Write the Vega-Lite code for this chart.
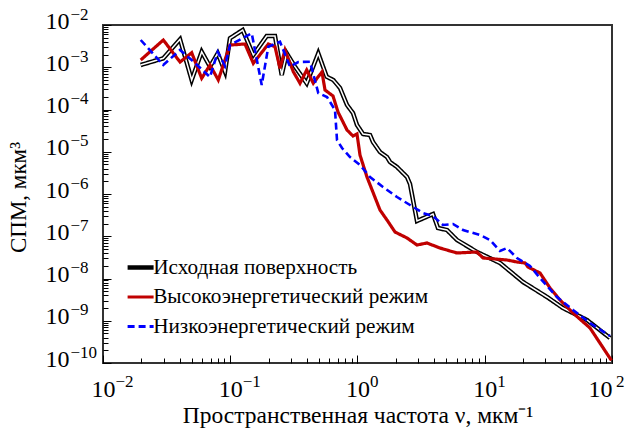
{
  "$schema": "https://vega.github.io/schema/vega-lite/v6.json",
  "width": 509,
  "height": 338,
  "autosize": {"type": "none"},
  "padding": {"left": 103, "top": 25, "right": 13, "bottom": 73},
  "background": "white",
  "config": {
    "view": {"stroke": "#333333", "strokeWidth": 2},
    "font": "Liberation Serif",
    "axis": {"labelFont": "Liberation Serif", "titleFont": "Liberation Serif", "labelColor": "black", "titleColor": "black", "tickColor": "black", "domain": false, "grid": false, "labelOverlap": false, "labelFlush": false, "labelBound": false},
    "legend": {"labelFont": "Liberation Serif", "labelFontSize": 21.2, "labelColor": "black", "labelLimit": 500}
  },
  "datasets": {
    "psd": [
      {"series": "Исходная поверхность", "x": 0.01978, "y": 1.13e-3},
      {"series": "Исходная поверхность", "x": 0.02978, "y": 1.628e-3},
      {"series": "Исходная поверхность", "x": 0.04029, "y": 4.587e-3},
      {"series": "Исходная поверхность", "x": 0.04977, "y": 4.99e-4},
      {"series": "Исходная поверхность", "x": 0.05964, "y": 2.333e-3},
      {"series": "Исходная поверхность", "x": 0.06932, "y": 1.03e-3},
      {"series": "Исходная поверхность", "x": 0.0797, "y": 2.139e-3},
      {"series": "Исходная поверхность", "x": 0.09094, "y": 7.85e-4},
      {"series": "Исходная поверхность", "x": 0.0995, "y": 4.844e-3},
      {"series": "Исходная поверхность", "x": 0.1252, "y": 7.615e-3},
      {"series": "Исходная поверхность", "x": 0.1518, "y": 1.95e-3},
      {"series": "Исходная поверхность", "x": 0.1934, "y": 5.49e-3},
      {"series": "Исходная поверхность", "x": 0.2247, "y": 5.49e-3},
      {"series": "Исходная поверхность", "x": 0.2537, "y": 6.555e-4},
      {"series": "Исходная поверхность", "x": 0.2778, "y": 2.139e-3},
      {"series": "Исходная поверхность", "x": 0.3227, "y": 1.03e-3},
      {"series": "Исходная поверхность", "x": 0.3989, "y": 4.17e-4},
      {"series": "Исходная поверхность", "x": 0.4918, "y": 2.139e-3},
      {"series": "Исходная поверхность", "x": 0.5728, "y": 5.974e-4},
      {"series": "Исходная поверхность", "x": 0.6454, "y": 4.99e-4},
      {"series": "Исходная поверхность", "x": 0.7288, "y": 3.228e-4},
      {"series": "Исходная поверхность", "x": 0.827, "y": 1.278e-4},
      {"series": "Исходная поверхность", "x": 0.9216, "y": 8.26e-5},
      {"series": "Исходная поверхность", "x": 0.991, "y": 4.296e-5},
      {"series": "Исходная поверхность", "x": 1.105, "y": 2.63e-5},
      {"series": "Исходная поверхность", "x": 1.254, "y": 2.49e-5},
      {"series": "Исходная поверхность", "x": 1.324, "y": 1.7e-5},
      {"series": "Исходная поверхность", "x": 1.502, "y": 9.86e-6},
      {"series": "Исходная поверхность", "x": 1.705, "y": 7.51e-6},
      {"series": "Исходная поверхность", "x": 1.8, "y": 5.72e-6},
      {"series": "Исходная поверхность", "x": 2.044, "y": 4.355e-6},
      {"series": "Исходная поверхность", "x": 2.449, "y": 2.525e-6},
      {"series": "Исходная поверхность", "x": 2.586, "y": 1.725e-6},
      {"series": "Исходная поверхность", "x": 2.935, "y": 2.296e-7},
      {"series": "Исходная поверхность", "x": 3.921, "y": 3.362e-7},
      {"series": "Исходная поверхность", "x": 4.291, "y": 1.568e-7},
      {"series": "Исходная поверхность", "x": 5.05, "y": 1.405e-7},
      {"series": "Исходная поверхность", "x": 6.05, "y": 8.15e-8},
      {"series": "Исходная поверхность", "x": 8.69, "y": 4.24e-8},
      {"series": "Исходная поверхность", "x": 13.18, "y": 2.33e-8},
      {"series": "Исходная поверхность", "x": 19.98, "y": 8.26e-9},
      {"series": "Исходная поверхность", "x": 30.84, "y": 3.65e-9},
      {"series": "Исходная поверхность", "x": 41.2, "y": 2.0e-9},
      {"series": "Исходная поверхность", "x": 63.6, "y": 1.041e-9},
      {"series": "Исходная поверхность", "x": 96.4, "y": 3.905e-10},

      {"series": "Высокоэнергетический режим", "x": 0.01978, "y": 1.484e-3},
      {"series": "Высокоэнергетический режим", "x": 0.02978, "y": 4.415e-3},
      {"series": "Высокоэнергетический режим", "x": 0.04029, "y": 1.331e-3},
      {"series": "Высокоэнергетический режим", "x": 0.04977, "y": 2.21e-3},
      {"series": "Высокоэнергетический режим", "x": 0.05964, "y": 5.475e-4},
      {"series": "Высокоэнергетический режим", "x": 0.06932, "y": 1.13e-3},
      {"series": "Высокоэнергетический режим", "x": 0.08054, "y": 4.99e-4},
      {"series": "Высокоэнергетический режим", "x": 0.0995, "y": 3.362e-3},
      {"series": "Высокоэнергетический режим", "x": 0.1306, "y": 3.55e-3},
      {"series": "Высокоэнергетический режим", "x": 0.1518, "y": 1.24e-3},
      {"series": "Высокоэнергетический режим", "x": 0.1991, "y": 3.55e-3},
      {"series": "Высокоэнергетический режим", "x": 0.2247, "y": 3.065e-3},
      {"series": "Высокоэнергетический режим", "x": 0.246, "y": 9.44e-4},
      {"series": "Высокоэнергетический режим", "x": 0.2693, "y": 2.56e-3},
      {"series": "Высокоэнергетический режим", "x": 0.313, "y": 7.85e-4},
      {"series": "Высокоэнергетический режим", "x": 0.3533, "y": 4.17e-4},
      {"series": "Высокоэнергетический режим", "x": 0.3989, "y": 8.61e-4},
      {"series": "Высокоэнергетический режим", "x": 0.4495, "y": 4.17e-4},
      {"series": "Высокоэнергетический режим", "x": 0.4893, "y": 5.88e-4},
      {"series": "Высокоэнергетический режим", "x": 0.526, "y": 7.72e-4},
      {"series": "Высокоэнергетический режим", "x": 0.5554, "y": 2.894e-4},
      {"series": "Высокоэнергетический режим", "x": 0.642, "y": 2.087e-4},
      {"series": "Высокоэнергетический режим", "x": 0.7026, "y": 8.73e-5},
      {"series": "Высокоэнергетический режим", "x": 0.827, "y": 3.27e-5},
      {"series": "Высокоэнергетический режим", "x": 0.9216, "y": 2.36e-5},
      {"series": "Высокоэнергетический режим", "x": 0.991, "y": 2.63e-5},
      {"series": "Высокоэнергетический режим", "x": 1.046, "y": 8.38e-6},
      {"series": "Высокоэнергетический режим", "x": 1.187, "y": 2.525e-6},
      {"series": "Высокоэнергетический режим", "x": 1.502, "y": 4.18e-7},
      {"series": "Высокоэнергетический режим", "x": 1.705, "y": 2.424e-7},
      {"series": "Высокоэнергетический режим", "x": 1.971, "y": 1.261e-7},
      {"series": "Высокоэнергетический режим", "x": 2.449, "y": 9.09e-8},
      {"series": "Высокоэнергетический режим", "x": 2.935, "y": 6.21e-8},
      {"series": "Высокоэнергетический режим", "x": 3.517, "y": 6.92e-8},
      {"series": "Высокоэнергетический режим", "x": 4.449, "y": 5.27e-8},
      {"series": "Высокоэнергетический режим", "x": 6.05, "y": 4.013e-8},
      {"series": "Высокоэнергетический режим", "x": 8.69, "y": 4.24e-8},
      {"series": "Высокоэнергетический режим", "x": 9.69, "y": 3.056e-8},
      {"series": "Высокоэнергетический режим", "x": 14.95, "y": 2.74e-8},
      {"series": "Высокоэнергетический режим", "x": 17.92, "y": 2.457e-8},
      {"series": "Высокоэнергетический режим", "x": 20.72, "y": 2.33e-8},
      {"series": "Высокоэнергетический режим", "x": 21.87, "y": 1.872e-8},
      {"series": "Высокоэнергетический режим", "x": 27.18, "y": 1.35e-8},
      {"series": "Высокоэнергетический режим", "x": 32.57, "y": 5.96e-9},
      {"series": "Высокоэнергетический режим", "x": 39.02, "y": 3.1e-9},
      {"series": "Высокоэнергетический режим", "x": 49.38, "y": 1.526e-9},
      {"series": "Высокоэнергетический режим", "x": 67.17, "y": 6.74e-10},
      {"series": "Высокоэнергетический режим", "x": 99.0, "y": 1.15e-10},

      {"series": "Низкоэнергетический режим", "x": 0.01978, "y": 4.415e-3},
      {"series": "Низкоэнергетический режим", "x": 0.02978, "y": 1.13e-3},
      {"series": "Низкоэнергетический режим", "x": 0.04029, "y": 2.56e-3},
      {"series": "Низкоэнергетический режим", "x": 0.04977, "y": 1.484e-3},
      {"series": "Низкоэнергетический режим", "x": 0.06932, "y": 5.88e-4},
      {"series": "Низкоэнергетический режим", "x": 0.0797, "y": 2.296e-3},
      {"series": "Низкоэнергетический режим", "x": 0.09094, "y": 1.071e-3},
      {"series": "Низкоэнергетический режим", "x": 0.0995, "y": 3.362e-3},
      {"series": "Низкоэнергетический режим", "x": 0.1475, "y": 6.36e-3},
      {"series": "Низкоэнергетический режим", "x": 0.1767, "y": 3.8e-4},
      {"series": "Низкоэнергетический режим", "x": 0.1991, "y": 3.065e-3},
      {"series": "Низкоэнергетический режим", "x": 0.246, "y": 4.024e-3},
      {"series": "Низкоэнергетический режим", "x": 0.2947, "y": 1.03e-3},
      {"series": "Низкоэнергетический режим", "x": 0.3425, "y": 1.331e-3},
      {"series": "Низкоэнергетический режим", "x": 0.4233, "y": 1.353e-3},
      {"series": "Низкоэнергетический режим", "x": 0.4918, "y": 2.458e-4},
      {"series": "Низкоэнергетический режим", "x": 0.576, "y": 1.976e-4},
      {"series": "Низкоэнергетический режим", "x": 0.6657, "y": 9.73e-5},
      {"series": "Низкоэнергетический режим", "x": 0.6902, "y": 1.897e-5},
      {"series": "Низкоэнергетический режим", "x": 0.7554, "y": 1.227e-5},
      {"series": "Низкоэнергетический режим", "x": 0.8732, "y": 7.51e-6},
      {"series": "Низкоэнергетический режим", "x": 1.046, "y": 4.86e-6},
      {"series": "Низкоэнергетический режим", "x": 1.254, "y": 2.525e-6},
      {"series": "Низкоэнергетический режим", "x": 1.586, "y": 1.464e-6},
      {"series": "Низкоэнергетический режим", "x": 2.044, "y": 8.49e-7},
      {"series": "Низкоэнергетический режим", "x": 2.586, "y": 5.49e-7},
      {"series": "Низкоэнергетический режим", "x": 3.271, "y": 3.55e-7},
      {"series": "Низкоэнергетический режим", "x": 3.921, "y": 3.015e-7},
      {"series": "Низкоэнергетический режим", "x": 4.697, "y": 1.846e-7},
      {"series": "Низкоэнергетический режим", "x": 5.63, "y": 1.95e-7},
      {"series": "Низкоэнергетический режим", "x": 6.75, "y": 1.405e-7},
      {"series": "Низкоэнергетический режим", "x": 9.18, "y": 1.071e-7},
      {"series": "Низкоэнергетический режим", "x": 11.0, "y": 8.15e-8},
      {"series": "Низкоэнергетический режим", "x": 13.18, "y": 4.477e-8},
      {"series": "Низкоэнергетический режим", "x": 14.95, "y": 5.27e-8},
      {"series": "Низкоэнергетический режим", "x": 17.92, "y": 3.056e-8},
      {"series": "Низкоэнергетический режим", "x": 22.68, "y": 1.976e-8},
      {"series": "Низкоэнергетический режим", "x": 27.18, "y": 1.027e-8},
      {"series": "Низкоэнергетический режим", "x": 36.97, "y": 3.65e-9},
      {"series": "Низкоэнергетический режим", "x": 49.38, "y": 1.796e-9},
      {"series": "Низкоэнергетический режим", "x": 67.17, "y": 8.85e-10},
      {"series": "Низкоэнергетический режим", "x": 96.4, "y": 4.356e-10}
    ]
  },
  "data": {"name": "psd"},
  "layer": [
    {
      "encoding": {
        "x": {
          "field": "x",
          "type": "quantitative",
          "scale": {"type": "log", "domain": [0.01, 100], "nice": false},
          "axis": {
            "orient": "bottom",
            "title": "Пространственная частота ν, мкм⁻¹",
            "values": [0.01, 0.1, 1, 10, 100],
            "labelExpr": "'10'",
            "tickSize": -8,
            "tickWidth": 1,
            "labelFontSize": 24,
            "labelPadding": 22,
            "labelAlign": {"condition": {"test": "datum.value > 50", "value": "right"}, "value": "center"},
            "titleFontSize": 23.5,
            "titleFontWeight": "normal",
            "titleY": 59,
            "titleBaseline": "alphabetic"
          }
        },
        "y": {
          "field": "y",
          "type": "quantitative",
          "scale": {"type": "log", "domain": [1e-10, 1e-2], "nice": false},
          "axis": {
            "orient": "left",
            "title": "СПМ, мкм³",
            "values": [1e-10, 1e-9, 1e-8, 1e-7, 1e-6, 1e-5, 1e-4, 1e-3, 1e-2],
            "labelExpr": "'10'",
            "tickSize": -8,
            "tickWidth": 1,
            "labelFontSize": 24,
            "labelPadding": 42,
            "labelAlign": "right",
            "labelBaseline": "middle",
            "labelOffset": -4,
            "titleFontSize": 23,
            "titleFontWeight": "normal",
            "titleX": -85,
            "titleY": 172,
            "titleAngle": -90,
            "titleAlign": "center",
            "titleBaseline": "middle"
          }
        }
      },
      "layer": [
        {
          "transform": [{"filter": "datum.series === 'Исходная поверхность'"}],
          "mark": {"type": "line", "strokeWidth": 4.5},
          "encoding": {
            "color": {"field": "series", "type": "nominal",
              "scale": {"domain": ["Исходная поверхность", "Высокоэнергетический режим", "Низкоэнергетический режим"], "range": ["#000000", "#c00000", "#0000ff"]},
              "legend": {
                "title": null, "orient": "none", "legendX": 27, "legendY": 232,
                "symbolType": "stroke", "symbolSize": 676, "symbolStrokeWidth": 3,
                "labelFont": "Liberation Serif", "labelFontSize": 21.2, "labelColor": "black", "labelLimit": 500,
                "labelOffset": 2, "rowPadding": 7.5, "padding": 0,
                "encode": {"symbols": {"update": {"strokeWidth": {"signal": "datum.value === 'Исходная поверхность' ? 4.5 : 3"}}}}
              }},
            "strokeDash": {"field": "series", "type": "nominal",
              "scale": {"domain": ["Исходная поверхность", "Высокоэнергетический режим", "Низкоэнергетический режим"], "range": [[1, 0], [1, 0], [7, 4]]},
              "legend": {
                "title": null, "orient": "none", "legendX": 27, "legendY": 232,
                "symbolType": "stroke", "symbolSize": 676, "symbolStrokeWidth": 3,
                "labelFont": "Liberation Serif", "labelFontSize": 21.2, "labelColor": "black", "labelLimit": 500,
                "labelOffset": 2, "rowPadding": 7.5, "padding": 0,
                "encode": {"symbols": {"update": {"strokeWidth": {"signal": "datum.value === 'Исходная поверхность' ? 4.5 : 3"}}}}
              }}
          }
        },
        {
          "transform": [{"filter": "datum.series === 'Исходная поверхность'"}],
          "mark": {"type": "line", "strokeWidth": 1.5, "color": "white"},
          "encoding": {}
        },
        {
          "transform": [{"filter": "datum.series === 'Высокоэнергетический режим'"}],
          "mark": {"type": "line", "strokeWidth": 3.2},
          "encoding": {
            "color": {"field": "series", "type": "nominal"},
            "strokeDash": {"field": "series", "type": "nominal"}
          }
        },
        {
          "transform": [{"filter": "datum.series === 'Низкоэнергетический режим'"}],
          "mark": {"type": "line", "strokeWidth": 2.6},
          "encoding": {
            "color": {"field": "series", "type": "nominal"},
            "strokeDash": {"field": "series", "type": "nominal"}
          }
        }
      ]
    },
    {
      "mark": {"type": "line", "opacity": 0},
      "encoding": {
        "x": {
          "field": "x",
          "type": "quantitative",
          "scale": {"type": "log", "domain": [0.01, 100], "nice": false},
          "axis": {
            "orient": "bottom",
            "title": null,
            "values": [0.01,0.02,0.03,0.04,0.05,0.06,0.07,0.08,0.09,0.1,0.2,0.3,0.4,0.5,0.6,0.7,0.8,0.9,1,2,3,4,5,6,7,8,9,10,20,30,40,50,60,70,80,90,100],
            "labelExpr": "abs(log(datum.value)/LN10 - round(log(datum.value)/LN10)) < 0.001 ? (round(log(datum.value)/LN10) < 0 ? '−' : '') + abs(round(log(datum.value)/LN10)) : ''",
            "tickSize": -5,
            "tickWidth": 1,
            "labelFontSize": 17,
            "labelPadding": 15,
            "labelAlign": {"condition": {"test": "datum.value > 50", "value": "right"}, "value": "left"},
            "labelOffset": 12
          }
        },
        "y": {
          "field": "y",
          "type": "quantitative",
          "scale": {"type": "log", "domain": [1e-10, 1e-2], "nice": false},
          "axis": {
            "orient": "left",
            "title": null,
            "values": [1e-10,2e-10,3e-10,4e-10,5e-10,6e-10,7e-10,8e-10,9e-10,1e-9,2e-9,3e-9,4e-9,5e-9,6e-9,7e-9,8e-9,9e-9,1e-8,2e-8,3e-8,4e-8,5e-8,6e-8,7e-8,8e-8,9e-8,1e-7,2e-7,3e-7,4e-7,5e-7,6e-7,7e-7,8e-7,9e-7,1e-6,2e-6,3e-6,4e-6,5e-6,6e-6,7e-6,8e-6,9e-6,1e-5,2e-5,3e-5,4e-5,5e-5,6e-5,7e-5,8e-5,9e-5,1e-4,2e-4,3e-4,4e-4,5e-4,6e-4,7e-4,8e-4,9e-4,1e-3,2e-3,3e-3,4e-3,5e-3,6e-3,7e-3,8e-3,9e-3,1e-2],
            "labelExpr": "abs(log(datum.value)/LN10 - round(log(datum.value)/LN10)) < 0.001 ? (round(log(datum.value)/LN10) < 0 ? '−' : '') + abs(round(log(datum.value)/LN10)) : ''",
            "tickSize": -5,
            "tickWidth": 1,
            "labelFontSize": 17,
            "labelPadding": 38,
            "labelAlign": "left",
            "labelBaseline": "middle",
            "labelOffset": -11
          }
        }
      }
    }
  ],
  "resolve": {"axis": {"x": "independent", "y": "independent"}}
}
